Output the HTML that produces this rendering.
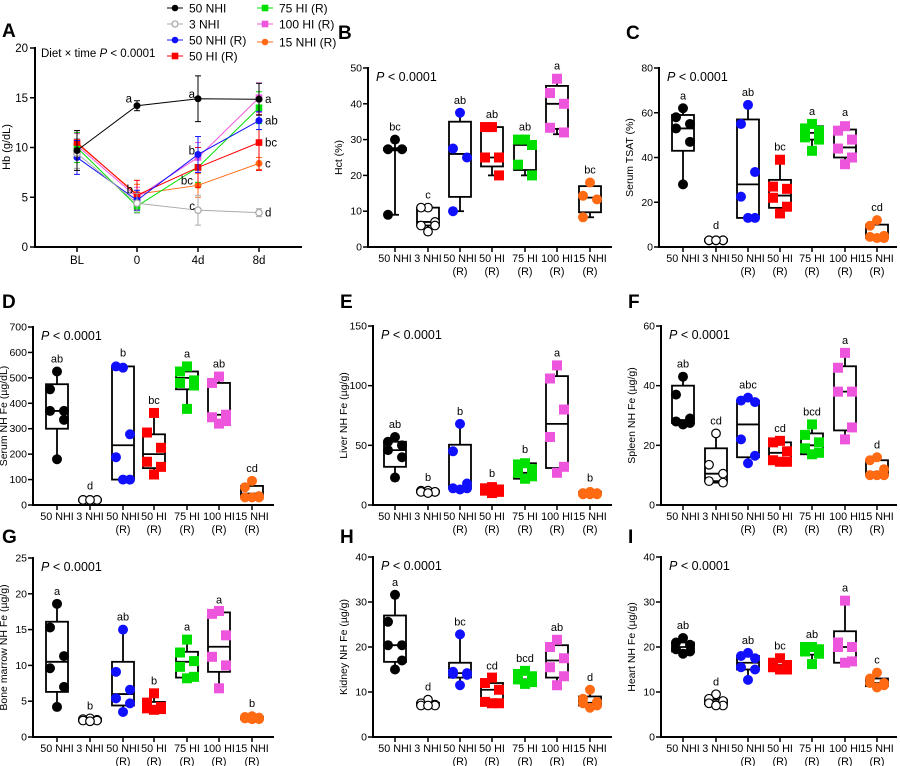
<!DOCTYPE html>
<html><head><meta charset="utf-8"><style>
body{margin:0;background:#fff}
svg{display:block;font-family:"Liberation Sans",Arial,sans-serif}
</style></head><body>
<svg id="s" width="900" height="766" viewBox="0 0 900 766" xmlns="http://www.w3.org/2000/svg"></svg>
<script>
const S=document.getElementById('s');let h='';
const cols=['#000','#000','#1010ff','#ff0000','#00e000','#ee55dd','#ff6a13'];
const shp=['c','o','c','s','s','s','c'];
const cats=[['50 NHI'],['3 NHI'],['50 NHI','(R)'],['50 HI','(R)'],['75 HI','(R)'],['100 HI','(R)'],['15 NHI','(R)']];
function mk(x,y,k){const c=cols[k];
 if(shp[k]=='s')return `<rect x="${x-5}" y="${y-5}" width="10" height="10" fill="${c}"/>`;
 if(shp[k]=='o')return `<circle cx="${x}" cy="${y}" r="4.3" fill="#fff" stroke="#000" stroke-width="1.2"/>`;
 return `<circle cx="${x}" cy="${y}" r="5" fill="${c}"/>`;}
function panel(o){
 const {ax,top,bot,max,step,xs,xend,title,data,L,Lx,Ly}=o;
 const Y=v=>bot-(v/max)*(bot-top);
 h+=`<text x="${Lx}" y="${Ly}" font-size="19" font-weight="bold">${L}</text>`;
 h+=`<line x1="${ax}" y1="${top-1}" x2="${ax}" y2="${bot+1}" stroke="#000" stroke-width="2"/>`;
 h+=`<line x1="${ax-1}" y1="${bot}" x2="${xend}" y2="${bot}" stroke="#000" stroke-width="2"/>`;
 for(let v=0;v<=max+1e-9;v+=step){const y=Y(v);
  h+=`<line x1="${ax-5}" y1="${y}" x2="${ax}" y2="${y}" stroke="#000" stroke-width="1.5"/>`;
  h+=`<text x="${ax-6}" y="${y+3.5}" font-size="10.5" text-anchor="end">${Math.round(v*10)/10}</text>`;}
 const cy=(top+bot)/2;
 h+=`<text transform="translate(${ax-26},${cy}) rotate(-90)" font-size="10.5" text-anchor="middle">${title}</text>`;
 h+=`<text x="${ax+8}" y="${top+13}" font-size="12.5"><tspan font-style="italic">P</tspan> &lt; 0.0001</text>`;
 xs.forEach((x,i)=>{
  h+=`<line x1="${x}" y1="${bot}" x2="${x}" y2="${bot+5}" stroke="#000" stroke-width="1.5"/>`;
  h+=`<text x="${x}" y="${bot+15}" font-size="10.8" text-anchor="middle">${cats[i][0]}</text>`;
  if(cats[i][1])h+=`<text x="${x}" y="${bot+28}" font-size="10.8" text-anchor="middle">${cats[i][1]}</text>`;
  const d=data[i];const [mn,q1,md,q3,mx]=d.b;
  h+=`<line x1="${x}" y1="${Y(mx)}" x2="${x}" y2="${Y(q3)}" stroke="#000" stroke-width="1.8"/>`;
  h+=`<line x1="${x}" y1="${Y(q1)}" x2="${x}" y2="${Y(mn)}" stroke="#000" stroke-width="1.8"/>`;
  h+=`<line x1="${x-4}" y1="${Y(mx)}" x2="${x+4}" y2="${Y(mx)}" stroke="#000" stroke-width="1.8"/>`;
  h+=`<line x1="${x-4}" y1="${Y(mn)}" x2="${x+4}" y2="${Y(mn)}" stroke="#000" stroke-width="1.8"/>`;
  h+=`<rect x="${x-11}" y="${Y(q3)}" width="22" height="${Math.max(Y(q1)-Y(q3),0.5)}" fill="#fff" stroke="#000" stroke-width="1.8"/>`;
  h+=`<line x1="${x-11}" y1="${Y(md)}" x2="${x+11}" y2="${Y(md)}" stroke="#000" stroke-width="1.8"/>`;
  const off=[0,-7,7,-7,7,0];
  d.p.forEach((v,j)=>{h+=mk(x+off[j%6],Y(v),i);});
  h+=`<text x="${x}" y="${Y(mx)-9}" font-size="11" text-anchor="middle">${d.l}</text>`;
 });
}
const X1=[395,428,460,492,525,557,590],X2=[683,716,748,780,812,845,877],X0=[57,90,123,154,187,219,252];
panel({L:'B',Lx:338,Ly:39,ax:368,top:68,bot:247,max:50,step:10,xs:X1,xend:612,title:'Hct (%)',data:[
{p:[30,27.3,27.3,9],b:[9,27,27.3,27.6,30],l:'bc'},
{p:[11,11,7,6,6,4.3],b:[4.3,6,7,11,11],l:'c'},
{p:[37.5,27.5,25,10],b:[10,14,26,35,37.5],l:'ab'},
{p:[33.5,33.5,25,25,20],b:[20,22.5,25,33.5,33.5],l:'ab'},
{p:[30,30,28.5,23,20],b:[20,21.5,28.5,29.5,30],l:'ab'},
{p:[47,43,40,33.3,32],b:[31.5,33,40,45,47],l:'a'},
{p:[18,14.3,13.3,8.3],b:[8.3,9.7,13.8,17,18],l:'bc'}]});
panel({L:'C',Lx:626,Ly:39,ax:659,top:68,bot:247,max:80,step:20,xs:X2,xend:897,title:'Serum TSAT (%)',data:[
{p:[62,58,55,53,47,28],b:[28,43,53,59,62],l:'a'},
{p:[3,3,3,3,3,3],b:[2,2.5,3,3.5,4],l:'d'},
{p:[63.5,55,33.5,22.5,13,13],b:[13,13,28,57,63.5],l:'ab'},
{p:[39,27,26,22,18,15],b:[15,17.5,23,30,39],l:'bc'},
{p:[55,53,52,49,48,43],b:[43,48,51,54,55],l:'a'},
{p:[54,52,48,44,40,37],b:[37,40,44.5,52.5,54.5],l:'a'},
{p:[12,9.5,5,4.5,4,4],b:[4,4,5,10,12],l:'cd'}]});
panel({L:'D',Lx:2,Ly:308,ax:33,top:327,bot:505,max:700,step:100,xs:X0,xend:274,title:'Serum NH Fe (µg/dL)',data:[
{p:[525,455,370,370,335,180],b:[180,300,370,475,525],l:'ab'},
{p:[20,20,20,20,20,20],b:[15,17,20,23,25],l:'d'},
{p:[540,545,278,188,100,100],b:[100,100,235,545,548],l:'b'},
{p:[362,285,225,170,150,120],b:[120,145,200,278,362],l:'bc'},
{p:[545,525,490,480,470,378],b:[378,455,500,525,545],l:'a'},
{p:[505,480,355,345,330,320],b:[318,330,355,480,505],l:'ab'},
{p:[95,70,35,30,30,30],b:[25,30,45,75,95],l:'cd'}]});
panel({L:'E',Lx:340,Ly:308,ax:373,top:326,bot:505,max:150,step:50,xs:X1,xend:612,title:'Liver NH Fe (µg/g)',data:[
{p:[57,53,50,46,40,23],b:[23,32,46,53,57],l:'ab'},
{p:[12,12,11,11,11,10],b:[10,10.5,11,12,12.5],l:'b'},
{p:[68,45,18,14,14,13],b:[13,14,15,50.5,68],l:'b'},
{p:[15,14,13,12,11,10],b:[9,10,13,15,16],l:'b'},
{p:[35,34,30,27,24,22],b:[21,22,27,35,36],l:'b'},
{p:[117,106,80,57,32,27],b:[25,31,68,108,117],l:'a'},
{p:[11,10,10,9,9,9],b:[8,9,10,11,12],l:'b'}]});
panel({L:'F',Lx:628,Ly:308,ax:661,top:326,bot:505,max:60,step:20,xs:X2,xend:897,title:'Spleen NH Fe (µg/g)',data:[
{p:[43,37,29,28,27.5,27],b:[27,27.5,28.5,40,43],l:'ab'},
{p:[24,13.5,10.5,8,7.5],b:[7.5,8,10.5,19,24],l:'cd'},
{p:[36,35,34.5,22,16.5,14],b:[14,16,27,35,36],l:'abc'},
{p:[21.5,21,18,15,14.5,14.5],b:[14.5,14.5,17.5,21,21.5],l:'cd'},
{p:[27,23.5,21,19,17.5,17],b:[17,17,20,24,27],l:'bcd'},
{p:[51,46,38,38,26,22],b:[21.5,25,38,46.5,51],l:'a'},
{p:[16,15,12,10,10,10],b:[10,10,11,15,16],l:'d'}]});
panel({L:'G',Lx:2,Ly:543,ax:33,top:558,bot:737,max:25,step:5,xs:X0,xend:274,title:'Bone marrow NH Fe (µg/g)',data:[
{p:[18.6,15.3,11.3,9.6,7,4.2],b:[4.2,6.3,10.5,16.1,18.6],l:'a'},
{p:[2.6,2.5,2.4,2.3,2.3,2.2],b:[2.1,2.2,2.4,2.6,2.6],l:'b'},
{p:[15,9.1,6.6,5.4,4.7,3.5],b:[3.5,4.4,6,10.5,15],l:'ab'},
{p:[6.1,4.8,4.2,4,3.9,3.8],b:[3.8,3.9,4.1,4.9,6.1],l:'b'},
{p:[13.6,11.8,10.6,9.8,8.4,8.2],b:[8.3,8.3,10.5,11.9,13.6],l:'a'},
{p:[17.6,17.2,14.2,11.2,10,6.8],b:[6.8,9.1,12.6,17.4,17.4],l:'a'},
{p:[2.9,2.8,2.7,2.6,2.5,2.5],b:[2.4,2.5,2.7,2.8,2.9],l:'b'}]});
panel({L:'H',Lx:340,Ly:543,ax:373,top:557,bot:737,max:40,step:10,xs:X1,xend:612,title:'Kidney NH Fe (µg/g)',data:[
{p:[31.6,25.6,20.4,20.4,17,15],b:[15,16.7,20.4,27,31.6],l:'a'},
{p:[8.3,7.5,7.2,7,7,7],b:[6.8,7,7.2,7.6,8.3],l:'d'},
{p:[22.8,14.5,14.2,14,13.8,11.5],b:[11.5,13.2,14.2,16.5,22.8],l:'bc'},
{p:[13.2,12,10.5,7.8,7.5,7.5],b:[7.5,7.5,10.5,12,13],l:'cd'},
{p:[14.7,14,13.5,12.8,12.2,11.8],b:[11.8,12.3,12.8,14,14.7],l:'bcd'},
{p:[21.6,20,17.5,15.5,13.5,11.5],b:[11.5,13.2,17,20.4,21.6],l:'ab'},
{p:[10.5,8.5,7.8,7.5,7,6.5],b:[6.5,7,7.6,9,10.5],l:'d'}]});
panel({L:'I',Lx:628,Ly:543,ax:661,top:557,bot:737,max:40,step:10,xs:X2,xend:897,title:'Heart NH Fe (µg/g)',data:[
{p:[22,21,20.5,19.5,19,18.5],b:[18.5,19,20,21,22],l:'ab'},
{p:[9.5,8.5,8,7.5,7,7],b:[7,7.3,7.8,8.3,9.5],l:'d'},
{p:[18.7,18,17.5,15.5,15,12.7],b:[12.7,15,16.5,18,18.7],l:'ab'},
{p:[17.5,16.5,16,15.5,15,15],b:[14.8,15,16,16.8,17.5],l:'bc'},
{p:[20,20,19.5,19,18.5,16.2],b:[16.2,18.3,19.5,20,20],l:'ab'},
{p:[30.3,21,20,20,16.8,16.5],b:[16.5,16.5,20,23.5,30.3],l:'a'},
{p:[14.3,13,12,12,11.5,11],b:[11,11.3,12,13,14.3],l:'c'}]});
// Panel A
(function(){
 const ax=35,top=48,bot=247,Y=v=>bot-v/20*(bot-top),xs=[77,137,198,259];
 h+=`<text x="2" y="37" font-size="19" font-weight="bold">A</text>`;
 h+=`<line x1="${ax}" y1="${top-1}" x2="${ax}" y2="${bot+1}" stroke="#000" stroke-width="2"/>`;
 h+=`<line x1="${ax-1}" y1="${bot}" x2="302" y2="${bot}" stroke="#000" stroke-width="2"/>`;
 for(let v=0;v<=20;v+=5){const y=Y(v);h+=`<line x1="${ax-5}" y1="${y}" x2="${ax}" y2="${y}" stroke="#000" stroke-width="1.5"/><text x="${ax-7}" y="${y+4}" font-size="11.5" text-anchor="end">${v}</text>`;}
 h+=`<text transform="translate(10,147) rotate(-90)" font-size="11" text-anchor="middle">Hb (g/dL)</text>`;
 h+=`<text x="41" y="57" font-size="11.5">Diet × time <tspan font-style="italic">P</tspan> &lt; 0.0001</text>`;
 ['BL','0','4d','8d'].forEach((t,i)=>{h+=`<line x1="${xs[i]}" y1="${bot}" x2="${xs[i]}" y2="${bot+5}" stroke="#000" stroke-width="1.5"/><text x="${xs[i]}" y="${bot+17}" font-size="11.5" text-anchor="middle">${t}</text>`;});
 const S=[
  {c:'#000',k:0,v:[9.7,14.2,14.9,14.85],e:[2,0.5,2.3,1.6]},
  {c:'#aaa',k:1,v:[9.4,4.4,3.7,3.45],e:[1.5,1,1.5,0.4]},
  {c:'#1010ff',k:2,v:[9,4.7,9.3,12.7],e:[1.7,1,1.8,0.9]},
  {c:'#ff0000',k:3,v:[10.5,5.2,8,10.5],e:[1.2,1.5,2,2.8]},
  {c:'#00e000',k:4,v:[10,4.1,8,14],e:[1.5,0.6,1.5,1.6]},
  {c:'#ee55dd',k:5,v:[10.2,5,9,15],e:[1.2,1,1.5,1.5]},
  {c:'#ff6a13',k:6,v:[10.4,5.3,6.2,8.4],e:[1,1,1.2,0.6]}];
 S.slice().reverse().forEach(s=>{
  h+=`<polyline fill="none" stroke="${s.c}" stroke-width="1" points="${xs.map((x,i)=>x+','+Y(s.v[i])).join(' ')}"/>`;
  xs.forEach((x,i)=>{const a=Y(s.v[i]+s.e[i]),b=Y(s.v[i]-s.e[i]);
   h+=`<line x1="${x}" y1="${a}" x2="${x}" y2="${b}" stroke="${s.c}" stroke-width="1"/><line x1="${x-3}" y1="${a}" x2="${x+3}" y2="${a}" stroke="${s.c}"/><line x1="${x-3}" y1="${b}" x2="${x+3}" y2="${b}" stroke="${s.c}"/>`;
   const y=Y(s.v[i]);
   if(s.k==1)h+=`<circle cx="${x}" cy="${y}" r="3.2" fill="#fff" stroke="#aaa" stroke-width="1.3"/>`;
   else if(shp[s.k]=='s')h+=`<rect x="${x-3.3}" y="${y-3.3}" width="6.6" height="6.6" fill="${s.c}"/>`;
   else h+=`<circle cx="${x}" cy="${y}" r="3.5" fill="${s.c}"/>`;});
 });
 const T=(x,v,t,a)=>{h+=`<text x="${x}" y="${Y(v)+4}" font-size="11.5" text-anchor="${a||'start'}">${t}</text>`;};
 T(132,14.9,'a','end');T(133,5.8,'b','end');T(195,15.4,'a','end');T(195,9.7,'b','end');T(193,6.7,'bc','end');T(195,4.1,'c','end');
 T(265,14.85,'a');T(265,12.7,'ab');T(265,10.5,'bc');T(265,8.4,'c');T(265,3.45,'d');
 const Lg=[[175,8,0,'50 NHI','#000'],[175,24,1,'3 NHI','#aaa'],[175,40,2,'50 NHI (R)','#1010ff'],[175,56,3,'50 HI (R)','#ff0000'],
  [265,8,4,'75 HI (R)','#00e000'],[265,24,5,'100 HI (R)','#ee55dd'],[265,42,6,'15 NHI (R)','#ff6a13']];
 Lg.forEach(([x,y,k,t,c])=>{h+=`<line x1="${x-8}" y1="${y}" x2="${x+8}" y2="${y}" stroke="${c}" stroke-width="1"/>`;
  if(k==1)h+=`<circle cx="${x}" cy="${y}" r="3" fill="#fff" stroke="#aaa" stroke-width="1.3"/>`;
  else if(shp[k]=='s')h+=`<rect x="${x-3.3}" y="${y-3.3}" width="6.6" height="6.6" fill="${c}"/>`;
  else h+=`<circle cx="${x}" cy="${y}" r="3.3" fill="${c}"/>`;
  h+=`<text x="${x+14}" y="${y+4.5}" font-size="12">${t}</text>`;});
})();
S.innerHTML=h;
</script>
</body></html>
